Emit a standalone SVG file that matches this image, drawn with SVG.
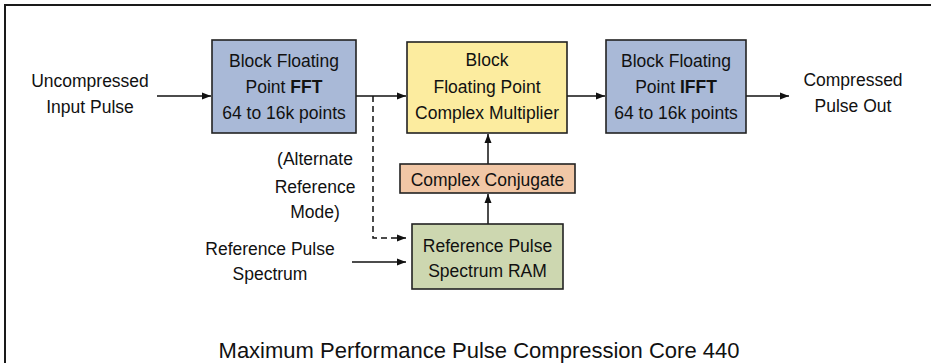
<svg xmlns="http://www.w3.org/2000/svg" width="931" height="363" viewBox="0 0 931 363">
<style>
text{font-family:"Liberation Sans",Arial,sans-serif;font-size:17.5px;fill:#111;text-anchor:middle}
.title{font-size:22px}
.box{stroke:#222;stroke-width:1.6}
.fft{fill:#a9b9d7}
.mul{fill:#fcec9f}
.conj{fill:#f1c7a6}
.ram{fill:#cdd7b0}
.ln{stroke:#111;stroke-width:1.5;fill:none;marker-end:url(#ah)}
.dash{stroke-dasharray:6,4}
</style>
<defs>
<marker id="ah" markerUnits="userSpaceOnUse" markerWidth="10" markerHeight="8" refX="9" refY="4" orient="auto">
<path d="M0,0.5 L9,4 L0,7.5 Z" fill="#111"/>
</marker>
</defs>
<rect width="931" height="363" fill="#fff"/>
<path d="M5,363 V5 H931" fill="none" stroke="#1a1a1a" stroke-width="2"/>
<g id="connectors">
<line class="ln" x1="157" y1="96" x2="211" y2="96"/>
<line class="ln" x1="356" y1="96" x2="406" y2="96"/>
<line class="ln" x1="567" y1="96" x2="605" y2="96"/>
<line class="ln" x1="746" y1="96" x2="789" y2="96"/>
<line class="ln" x1="488" y1="164" x2="488" y2="134"/>
<line class="ln" x1="488" y1="224" x2="488" y2="194"/>
<path class="ln dash" d="M373,96 V238 H406"/>
<line class="ln" x1="352" y1="262" x2="406" y2="262"/>
</g>
<g id="input-label">
<text x="90" y="87">Uncompressed</text>
<text x="90" y="113">Input Pulse</text>
</g>
<g id="fft">
<rect class="box fft" x="212" y="40" width="144" height="93"/>
<text x="284" y="67">Block Floating</text>
<text x="284" y="93">Point <tspan font-weight="bold">FFT</tspan></text>
<text x="284" y="119">64 to 16k points</text>
</g>
<g id="multiplier">
<rect class="box mul" x="407" y="42" width="160" height="91"/>
<text x="487" y="66">Block</text>
<text x="487" y="93">Floating Point</text>
<text x="487" y="119">Complex Multiplier</text>
</g>
<g id="ifft">
<rect class="box fft" x="606" y="40" width="140" height="93"/>
<text x="676" y="67">Block Floating</text>
<text x="676" y="93">Point <tspan font-weight="bold">IFFT</tspan></text>
<text x="676" y="119">64 to 16k points</text>
</g>
<g id="output-label">
<text x="853" y="86">Compressed</text>
<text x="853" y="112">Pulse Out</text>
</g>
<g id="conjugate">
<rect class="box conj" x="400" y="164" width="175" height="29"/>
<text x="487.5" y="186">Complex Conjugate</text>
</g>
<g id="ram">
<rect class="box ram" x="412" y="224" width="151" height="65"/>
<text x="487.5" y="252">Reference Pulse</text>
<text x="487.5" y="277">Spectrum RAM</text>
</g>
<g id="alternate-label">
<text x="315" y="165">(Alternate</text>
<text x="315" y="193">Reference</text>
<text x="315" y="218">Mode)</text>
</g>
<g id="refpulse-label">
<text x="270" y="255">Reference Pulse</text>
<text x="270" y="280">Spectrum</text>
</g>
<text class="title" x="479" y="358">Maximum Performance Pulse Compression Core 440</text>
</svg>
